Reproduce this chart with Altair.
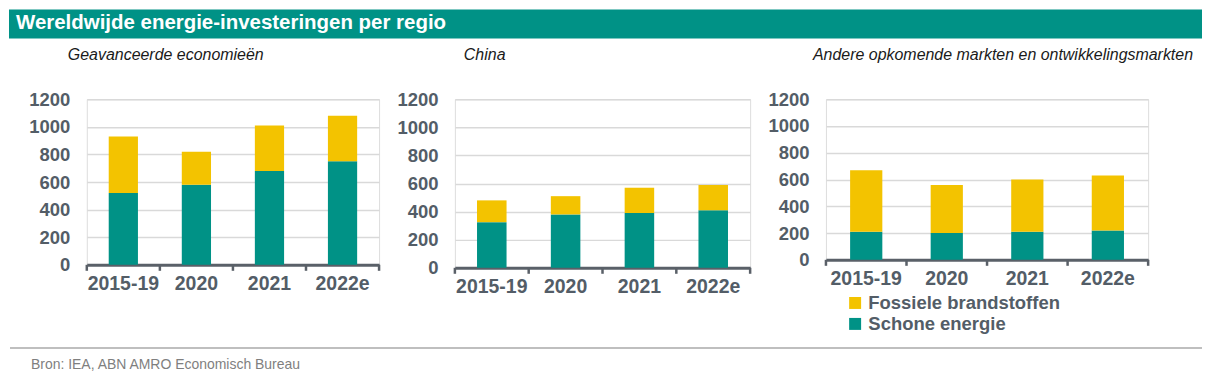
import altair as alt
import pandas as pd

# ---------------- data ----------------
years = ["2015-19", "2020", "2021", "2022e"]
series = ["Fossiele brandstoffen", "Schone energie"]

adv_clean = [520, 580, 680, 750]
adv_fossil = [410, 240, 330, 330]

china_clean = [325, 380, 390, 410]
china_fossil = [155, 130, 180, 180]

other_clean = [210, 200, 210, 220]
other_fossil = [460, 360, 390, 410]

panel_titles = [
    "Geavanceerde economieën",
    "China",
    "Andere opkomende markten en ontwikkelingsmarkten",
]
y_ticks = [0, 200, 400, 600, 800, 1000, 1200]
tick_idx = [0, 1, 2, 3, 4]

title_text = "Wereldwijde energie-investeringen per regio"
source_text = "Bron: IEA, ABN AMRO Economisch Bureau"

# ---------------- style ----------------
TEAL = "#009286"
YELLOW = "#f3c300"
LABEL = "#535d67"
GRID = "#d9d9d9"
AXIS = "#5a6068"
FONT = "Liberation Sans"


def make_df(clean, fossil):
    rows = []
    for yr, c, f in zip(years, clean, fossil):
        rows.append({"jaar": yr, "reeks": "Schone energie", "waarde": c, "ord": 0})
        rows.append({"jaar": yr, "reeks": "Fossiele brandstoffen", "waarde": f, "ord": 1})
    return pd.DataFrame(rows)


one = pd.DataFrame({"k": [0]})
ticks_df = pd.DataFrame({"t": tick_idx})


def panel(df, w, h, title, title_x, legend=None):
    bars = alt.Chart(df).mark_bar().encode(
        x=alt.X(
            "jaar:N",
            sort=years,
            title=None,
            scale=alt.Scale(paddingInner=0.6, paddingOuter=0.3),
            axis=alt.Axis(
                labelAngle=0,
                labelFont=FONT,
                labelFontSize=19.5,
                labelFontWeight="bold",
                labelColor=LABEL,
                labelPadding=10,
                ticks=False,
                domainColor=AXIS,
                domainWidth=3,
                grid=False,
            ),
        ),
        y=alt.Y(
            "sum(waarde):Q",
            title=None,
            scale=alt.Scale(domain=[0, 1200], nice=False),
            axis=alt.Axis(
                values=y_ticks,
                format="d",
                labelFont=FONT,
                labelFontSize=18.5,
                labelFontWeight="bold",
                labelColor=LABEL,
                labelPadding=17,
                ticks=False,
                domain=False,
                gridColor=GRID,
                gridWidth=1.5,
            ),
        ),
        color=alt.Color(
            "reeks:N",
            scale=alt.Scale(domain=series, range=[YELLOW, TEAL]),
            legend=legend,
        ),
        order=alt.Order("ord:Q", sort="ascending"),
    )
    tks = alt.Chart(ticks_df).mark_rule(color=AXIS, strokeWidth=2.5).encode(
        x=alt.X("t:Q", scale=alt.Scale(domain=[0, 4], nice=False, zero=False), axis=None),
        y=alt.value(h),
        y2=alt.value(h + 6),
    )
    sub = alt.Chart(one).mark_text(
        text=title,
        font=FONT,
        fontSize=16,
        fontStyle="italic",
        color="#1a1a1a",
        align="left",
        baseline="middle",
    ).encode(x=alt.value(title_x), y=alt.value(-44))
    return [bars, tks, sub]


# panel 1 (with header & footer decoration)
l1 = panel(make_df(adv_clean, adv_fossil), 293, 166, panel_titles[0], -19)
header = alt.Chart(one).mark_rect(color=TEAL).encode(
    x=alt.value(-78), x2=alt.value(1118), y=alt.value(-90), y2=alt.value(-61)
)
header_txt = alt.Chart(one).mark_text(
    text=title_text,
    font=FONT,
    fontSize=20.5,
    fontWeight="bold",
    color="white",
    align="left",
    baseline="middle",
).encode(x=alt.value(-71), y=alt.value(-76))
footer = alt.Chart(one).mark_rule(color="#bfbfbf", strokeWidth=2).encode(
    x=alt.value(-77), x2=alt.value(1118), y=alt.value(249.5)
)
footer_txt = alt.Chart(one).mark_text(
    text=source_text,
    font=FONT,
    fontSize=14,
    color="#7f7f7f",
    align="left",
    baseline="middle",
).encode(x=alt.value(-56), y=alt.value(266))

p1 = alt.layer(*l1, header, header_txt, footer, footer_txt).resolve_scale(
    x="independent"
).properties(width=293, height=166)

l2 = panel(make_df(china_clean, china_fossil), 296, 169, panel_titles[1], 9)
p2 = alt.layer(*l2).resolve_scale(x="independent").properties(width=296, height=169)

leg = alt.Legend(
    orient="none",
    legendX=20,
    legendY=195,
    title=None,
    symbolType="square",
    symbolSize=144,
    symbolStrokeWidth=0,
    labelFont=FONT,
    labelFontSize=18.5,
    labelFontWeight="bold",
    labelColor=LABEL,
    labelLimit=400,
    labelOffset=4,
    rowPadding=2,
)
l3 = panel(make_df(other_clean, other_fossil), 323, 161, panel_titles[2], -13, legend=leg)
p3 = alt.layer(*l3).resolve_scale(x="independent").properties(width=323, height=161)

chart = (
    alt.hconcat(p1, p2, p3, spacing=76, bounds="flush")
    .resolve_scale(x="independent", y="independent", color="independent")
    .properties(padding=0, autosize=alt.AutoSizeParams(type="pad"))
    .configure_view(stroke=None)
    .configure(background="white")
)

chart.save("out.html", embed_options={"renderer": "svg", "actions": False})
